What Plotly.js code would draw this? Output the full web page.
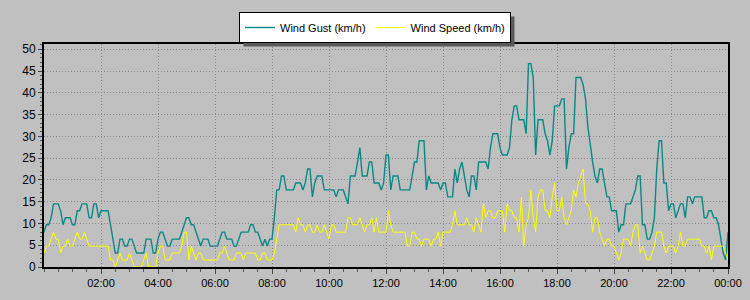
<!DOCTYPE html>
<html>
<head>
<meta charset="utf-8">
<script src="https://cdn.plot.ly/plotly-3.0.1.min.js"></script>
<style>
  html, body { margin: 0; padding: 0; background: #c0c0c0; }
  #chart { width: 750px; height: 300px; }
</style>
</head>
<body>
<div id="chart"></div>
<script>
// 5-minute readings from 00:00 to 24:00 (km/h), one row per hour
const startTime = '2024-01-01 00:00';
const stepMs = 5 * 60 * 1000;

const windGust = [
  8.0, 9.7, 9.7, 11.3, 14.5, 14.5, 14.5, 12.9, 9.7, 11.3, 11.3, 11.3,
  9.7, 9.7, 12.9, 12.9, 14.5, 14.5, 14.5, 11.3, 11.3, 14.5, 14.5, 11.3,
  12.9, 12.9, 12.9, 12.9, 9.7, 6.4, 3.2, 3.2, 6.4, 6.4, 4.8, 4.8,
  6.4, 6.4, 4.8, 3.2, 3.2, 3.2, 3.2, 6.4, 6.4, 6.4, 3.2, 3.2,
  6.4, 8.0, 8.0, 6.4, 4.8, 4.8, 6.4, 6.4, 6.4, 6.4, 8.0, 9.7,
  11.3, 11.3, 9.7, 9.7, 8.0, 6.4, 4.8, 6.4, 6.4, 6.4, 4.8, 4.8,
  4.8, 4.8, 6.4, 8.0, 8.0, 6.4, 6.4, 6.4, 4.8, 4.8, 6.4, 8.0,
  8.0, 8.0, 8.0, 9.7, 9.7, 8.0, 8.0, 6.4, 4.8, 6.4, 4.8, 6.4,
  6.4, 11.3, 17.7, 17.7, 20.9, 20.9, 17.7, 17.7, 17.7, 17.7, 19.3, 19.3,
  19.3, 17.7, 19.3, 22.5, 22.5, 16.1, 19.3, 20.9, 20.9, 20.9, 17.7, 17.7,
  17.7, 17.7, 17.7, 16.1, 17.7, 17.7, 17.7, 16.1, 14.5, 20.9, 20.9, 20.9,
  24.1, 27.4, 20.9, 20.9, 20.9, 24.1, 24.1, 19.3, 19.3, 19.3, 17.7, 19.3,
  25.7, 25.7, 17.7, 20.9, 20.9, 20.9, 17.7, 17.7, 17.7, 17.7, 17.7, 20.9,
  24.1, 24.1, 29.0, 29.0, 29.0, 17.7, 20.9, 19.3, 19.3, 19.3, 19.3, 17.7,
  19.3, 19.3, 16.1, 16.1, 16.1, 22.5, 19.3, 22.5, 24.1, 20.9, 17.7, 16.1,
  20.9, 20.9, 17.7, 24.1, 24.1, 24.1, 24.1, 22.5, 27.4, 30.6, 30.6, 30.6,
  27.4, 25.7, 25.7, 25.7, 27.4, 33.8, 37.0, 37.0, 33.8, 33.8, 33.8, 30.6,
  46.7, 46.7, 43.5, 25.7, 33.8, 33.8, 33.8, 30.6, 29.0, 25.7, 29.0, 37.0,
  37.0, 37.0, 38.6, 38.6, 22.5, 27.4, 30.6, 30.6, 43.5, 43.5, 43.5, 41.8,
  38.6, 32.2, 27.4, 24.1, 20.9, 19.3, 22.5, 22.5, 19.3, 16.1, 16.1, 12.9,
  12.9, 12.9, 8.0, 9.7, 9.7, 14.5, 14.5, 14.5, 16.1, 17.7, 20.9, 20.9,
  9.7, 9.7, 6.4, 6.4, 8.0, 11.3, 22.5, 29.0, 29.0, 19.3, 19.3, 12.9,
  14.5, 14.5, 11.3, 12.9, 14.5, 14.5, 11.3, 16.1, 16.1, 14.5, 16.1, 16.1,
  16.1, 16.1, 11.3, 11.3, 12.9, 12.9, 11.3, 11.3, 9.7, 6.4, 3.2, 1.6,
  8.0
];

const windSpeed = [
  3.2, 4.8, 4.8, 6.4, 8.0, 6.4, 6.4, 3.2, 4.8, 4.8, 6.4, 4.8,
  4.8, 6.4, 8.0, 6.4, 6.4, 8.0, 6.4, 4.8, 4.8, 4.8, 4.8, 4.8,
  4.8, 4.8, 4.8, 4.8, 1.6, 1.6, 0, 1.6, 3.2, 1.6, 1.6, 1.6,
  3.2, 1.6, 0, 0, 0, 0, 1.6, 3.2, 0, 0, 0, 0,
  3.2, 4.8, 4.8, 1.6, 1.6, 1.6, 3.2, 3.2, 3.2, 3.2, 4.8, 8.0,
  8.0, 1.6, 4.8, 3.2, 1.6, 3.2, 3.2, 1.6, 1.6, 1.6, 1.6, 1.6,
  1.6, 1.6, 3.2, 3.2, 4.8, 3.2, 1.6, 1.6, 1.6, 3.2, 3.2, 3.2,
  1.6, 3.2, 3.2, 3.2, 3.2, 3.2, 1.6, 1.6, 3.2, 3.2, 1.6, 1.6,
  1.6, 3.2, 6.4, 9.7, 9.7, 9.7, 9.7, 9.7, 9.7, 9.7, 8.0, 11.3,
  9.7, 9.7, 8.0, 9.7, 9.7, 8.0, 8.0, 9.7, 8.0, 8.0, 9.7, 8.0,
  6.4, 9.7, 9.7, 8.0, 8.0, 8.0, 8.0, 8.0, 11.3, 11.3, 9.7, 9.7,
  9.7, 11.3, 9.7, 8.0, 9.7, 9.7, 11.3, 8.0, 11.3, 8.0, 8.0, 8.0,
  8.0, 12.9, 9.7, 8.0, 8.0, 8.0, 8.0, 8.0, 8.0, 4.8, 4.8, 8.0,
  8.0, 6.4, 6.4, 4.8, 6.4, 6.4, 6.4, 4.8, 6.4, 6.4, 8.0, 4.8,
  8.0, 8.0, 8.0, 8.0, 9.7, 12.9, 9.7, 9.7, 9.7, 9.7, 11.3, 9.7,
  9.7, 8.0, 11.3, 9.7, 8.0, 14.5, 11.3, 12.9, 12.9, 11.3, 11.3, 12.9,
  12.9, 12.9, 8.0, 14.5, 12.9, 12.9, 11.3, 11.3, 8.0, 16.1, 4.8, 9.7,
  11.3, 17.7, 11.3, 8.0, 16.1, 17.7, 17.7, 12.9, 12.9, 11.3, 16.1, 19.3,
  12.9, 12.9, 16.1, 11.3, 9.7, 11.3, 12.9, 17.7, 16.1, 19.3, 20.9, 22.5,
  14.5, 14.5, 12.9, 8.0, 11.3, 11.3, 8.0, 6.4, 4.8, 6.4, 6.4, 4.8,
  4.8, 3.2, 1.6, 3.2, 6.4, 6.4, 6.4, 4.8, 8.0, 9.7, 9.7, 3.2,
  4.8, 3.2, 1.6, 1.6, 3.2, 4.8, 8.0, 8.0, 8.0, 4.8, 3.2, 4.8,
  4.8, 4.8, 3.2, 4.8, 8.0, 4.8, 4.8, 6.4, 6.4, 6.4, 6.4, 6.4,
  6.4, 4.8, 4.8, 3.2, 4.8, 1.6, 4.8, 4.8, 4.8, 4.8, 4.8, 3.2,
  1.6
];

const xTickVals = [
  '2024-01-01 02:00', '2024-01-01 04:00', '2024-01-01 06:00', '2024-01-01 08:00',
  '2024-01-01 10:00', '2024-01-01 12:00', '2024-01-01 14:00', '2024-01-01 16:00',
  '2024-01-01 18:00', '2024-01-01 20:00', '2024-01-01 22:00', '2024-01-02 00:00'
];
const xTickLabels = ['02:00', '04:00', '06:00', '08:00', '10:00', '12:00',
  '14:00', '16:00', '18:00', '20:00', '22:00', '00:00'];
const seriesNames = ['Wind Gust (km/h)', 'Wind Speed (km/h)'];

const traces = [
  {
    type: 'scatter', mode: 'lines', name: seriesNames[0],
    x0: startTime, dx: stepMs, y: windGust,
    line: { color: '#0a8787', width: 1.4 }
  },
  {
    type: 'scatter', mode: 'lines', name: seriesNames[1],
    x0: startTime, dx: stepMs, y: windSpeed,
    line: { color: '#ffff00', width: 1 }
  }
];

const M = { l: 44, r: 22, t: 44, b: 33 };
const W = 750, H = 300;
const plotW = W - M.l - M.r, plotH = H - M.t - M.b;

const layout = {
  width: W, height: H,
  margin: M,
  paper_bgcolor: '#c0c0c0',
  plot_bgcolor: '#c0c0c0',
  font: { family: 'Liberation Sans, Arial, sans-serif', size: 11, color: '#000' },
  showlegend: true,
  legend: {
    orientation: 'h',
    x: (375 - M.l) / plotW, xanchor: 'center',
    y: (H - M.b - 12) / plotH, yanchor: 'top',
    bgcolor: '#ffffff', bordercolor: '#000000', borderwidth: 1,
    font: { family: 'Liberation Sans, Arial, sans-serif', size: 11, color: '#000' },
    itemwidth: 30, tracegroupgap: 0
  },
  xaxis: {
    type: 'date',
    range: ['2024-01-01 00:00', '2024-01-02 00:00'],
    tickmode: 'array', tickvals: xTickVals, ticktext: xTickLabels,
    ticks: 'outside', ticklen: 5, tickcolor: '#444', tickwidth: 1,
    showgrid: true, gridcolor: '#8a8a8a', griddash: '1px,2px', gridwidth: 1,
    showline: true, linecolor: '#000', linewidth: 2, mirror: true,
    zeroline: false, fixedrange: true,
    minor: { tickmode: 'linear', tick0: '2024-01-01 00:00', dtick: 1800000,
             ticks: 'outside', ticklen: 3, tickcolor: '#555', showgrid: false }
  },
  yaxis: {
    range: [0, 51.2],
    tick0: 0, dtick: 5,
    tickfont: { size: 12 },
    ticks: 'outside', ticklen: 4, tickcolor: '#444', tickwidth: 1,
    showgrid: true, gridcolor: '#8a8a8a', griddash: '1px,2px', gridwidth: 1,
    showline: true, linecolor: '#000', linewidth: 2, mirror: true,
    zeroline: false, fixedrange: true,
    minor: { dtick: 1, ticks: 'outside', ticklen: 2, tickcolor: '#555', showgrid: false }
  }
};

Plotly.newPlot('chart', traces, layout, { staticPlot: true }).then(function (gd) {
  const bg = gd.querySelector('.legend .bg');
  if (!bg) return;
  const box = bg.getBoundingClientRect();
  const host = gd.getBoundingClientRect();
  const px2x = function (px) { return (px - host.left - M.l) / plotW; };
  const px2y = function (py) { return (H - M.b - (py - host.top)) / plotH; };
  Plotly.relayout(gd, {
    shapes: [{
      type: 'rect', xref: 'paper', yref: 'paper', layer: 'above',
      x0: px2x(box.left + 4), x1: px2x(box.right + 4),
      y0: px2y(box.bottom + 4), y1: px2y(box.top + 4),
      fillcolor: '#5a5a5a', line: { width: 0 }
    }]
  });
});
</script>
</body>
</html>
